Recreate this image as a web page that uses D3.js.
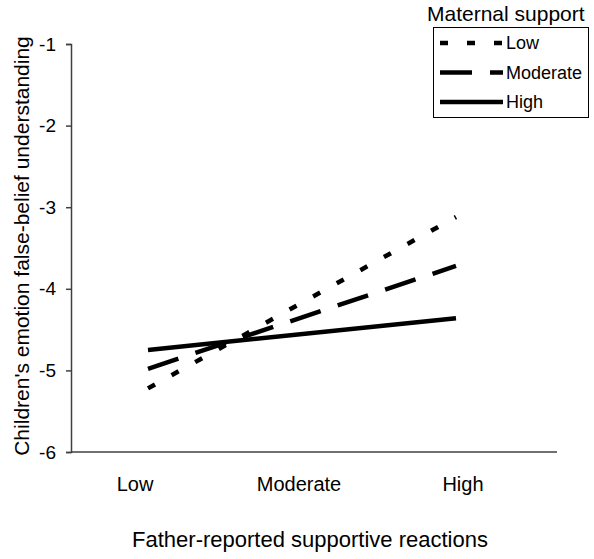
<!DOCTYPE html>
<html>
<head>
<meta charset="utf-8">
<script src="https://cdn.jsdelivr.net/npm/d3@7"></script>
<style>
  body { margin: 0; background: #fff; }
  svg { display: block; font-family: Arial, "Liberation Sans", sans-serif; }
</style>
</head>
<body>
<div id="chart"></div>
<script>
// x categories (father-reported supportive reactions)
const categories = ['Low', 'Moderate', 'High'];
// lines are drawn from the Low to the High level
const lineLevels = ['Low', 'High'];
const yTicks = [-1, -2, -3, -4, -5, -6];

// maternal support groups, values read at Low / High father support
const groups = ['Low', 'Moderate', 'High'];
const lowSupport = [-5.22, -3.12];
const moderateSupport = [-4.98, -3.72];
const highSupport = [-4.75, -4.36];

const width = 594;
const height = 559;

const svg = d3.select('#chart')
  .append('svg')
  .attr('width', width)
  .attr('height', height);

const x = d3.scalePoint().domain(categories).range([148, 456]);
const xLabel = d3.scalePoint().domain(categories).range([135, 463]);
const y = d3.scaleLinear().domain([-6, -1]).range([452, 44]);

const axisColor = '#404040';

// y axis (plain hyphen for the minus sign, like the original)
const yAxis = svg.append('g')
  .attr('transform', 'translate(71,0)')
  .call(d3.axisLeft(y).tickValues(yTicks).tickSize(5).tickPadding(10).tickFormat(d => String(d)));
yAxis.select('.domain').attr('stroke', axisColor).attr('stroke-width', 1.5);
yAxis.selectAll('.tick line').attr('stroke', axisColor).attr('stroke-width', 1.5);
yAxis.selectAll('.tick text')
  .attr('fill', '#000')
  .style('font-size', '19px')
  .style('font-family', 'Arial, "Liberation Sans", sans-serif');

// x axis line
svg.append('line')
  .attr('x1', 71).attr('x2', 557)
  .attr('y1', y(-6)).attr('y2', y(-6))
  .attr('stroke', axisColor)
  .attr('stroke-width', 1.5);

svg.selectAll('text.xlab')
  .data(categories)
  .enter()
  .append('text')
  .attr('class', 'xlab')
  .attr('x', d => xLabel(d))
  .attr('y', 491)
  .attr('text-anchor', 'middle')
  .style('font-size', '20px')
  .text(d => d);

// axis titles
svg.append('text')
  .attr('x', 310)
  .attr('y', 547)
  .attr('text-anchor', 'middle')
  .style('font-size', '22px')
  .text('Father-reported supportive reactions');

svg.append('text')
  .attr('transform', 'translate(29,246) rotate(-90)')
  .attr('text-anchor', 'middle')
  .style('font-size', '21px')
  .text("Children's emotion false-belief understanding");

// lines
const styles = {
  Low: { dash: '8,19' },
  Moderate: { dash: '32,18' },
  High: { dash: null }
};
const seriesData = [
  { name: 'Low', values: lowSupport },
  { name: 'Moderate', values: moderateSupport },
  { name: 'High', values: highSupport }
];

const line = d3.line()
  .x((d, i) => x(lineLevels[i]))
  .y(d => y(d));

svg.selectAll('path.series')
  .data(seriesData)
  .enter()
  .append('path')
  .attr('class', 'series')
  .attr('d', d => line(d.values))
  .attr('fill', 'none')
  .attr('stroke', '#000')
  .attr('stroke-width', 4.5)
  .attr('stroke-dasharray', d => styles[d.name].dash);

// legend
svg.append('text')
  .attr('x', 427)
  .attr('y', 21)
  .style('font-size', '21px')
  .text('Maternal support');

svg.append('rect')
  .attr('x', 433.5).attr('y', 27.5)
  .attr('width', 155).attr('height', 90)
  .attr('fill', '#fff')
  .attr('stroke', '#000')
  .attr('stroke-width', 1);

const legendY = d3.scalePoint().domain(groups).range([43, 102]);
const legend = svg.selectAll('g.leg')
  .data(groups)
  .enter()
  .append('g')
  .attr('class', 'leg')
  .attr('transform', d => `translate(0,${legendY(d)})`);

legend.append('line')
  .attr('x1', 440).attr('x2', 503)
  .attr('stroke', '#000')
  .attr('stroke-width', 4.5)
  .attr('stroke-dasharray', d => styles[d].dash);

legend.append('text')
  .attr('x', 506)
  .attr('dy', '0.35em')
  .style('font-size', '18px')
  .text(d => d);
</script>
</body>
</html>
